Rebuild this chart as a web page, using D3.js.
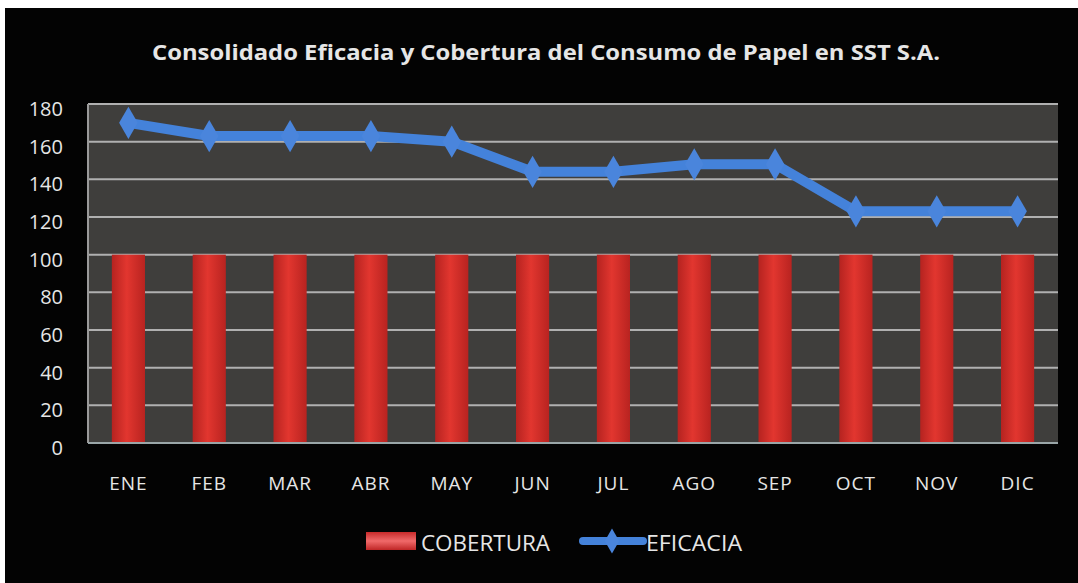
<!DOCTYPE html>
<html lang="es">
<head>
    <meta charset="UTF-8">
    <title>Consolidado Eficacia y Cobertura</title>
    <script src="https://d3js.org/d3.v7.min.js"></script>
    <style>
        body { margin: 0; padding: 0; background: #fff; }
        svg { display: block; }
        text { font-family: "Open Sans", "DejaVu Sans", sans-serif; fill: #e6e6e6; }
    </style>
</head>
<body>
<div id="viz"></div>
<script>
    // chart data
    const months = ["ENE", "FEB", "MAR", "ABR", "MAY", "JUN", "JUL", "AGO", "SEP", "OCT", "NOV", "DIC"];
    const cobertura = [100, 100, 100, 100, 100, 100, 100, 100, 100, 100, 100, 100];
    const eficacia = [170, 163, 163, 163, 160, 144, 144, 148, 148, 123, 123, 123];
    const yTicks = [0, 20, 40, 60, 80, 100, 120, 140, 160, 180];
    const title = "Consolidado Eficacia y Cobertura del Consumo de Papel en SST S.A.";

    const width = 1078, height = 583;
    const plot = { left: 88, right: 1058, top: 104, bottom: 443 };

    const svg = d3.select("#viz").append("svg")
        .attr("width", width)
        .attr("height", height);

    const defs = svg.append("defs");
    const barGrad = defs.append("linearGradient").attr("id", "barGrad")
        .attr("x1", "0%").attr("x2", "100%").attr("y1", "0%").attr("y2", "0%");
    barGrad.append("stop").attr("offset", "0%").attr("stop-color", "#b52320");
    barGrad.append("stop").attr("offset", "45%").attr("stop-color", "#e2362f");
    barGrad.append("stop").attr("offset", "100%").attr("stop-color", "#b82320");

    const legGrad = defs.append("linearGradient").attr("id", "legGrad")
        .attr("x1", "0%").attr("x2", "0%").attr("y1", "0%").attr("y2", "100%");
    legGrad.append("stop").attr("offset", "0%").attr("stop-color", "#c92a2a");
    legGrad.append("stop").attr("offset", "50%").attr("stop-color", "#f06a6a");
    legGrad.append("stop").attr("offset", "100%").attr("stop-color", "#c02626");

    // black chart background with white margin on top/left
    svg.append("rect").attr("x", 5).attr("y", 8)
        .attr("width", width - 5).attr("height", height - 8)
        .attr("fill", "#030303");

    svg.append("rect")
        .attr("x", plot.left).attr("y", plot.top)
        .attr("width", plot.right - plot.left).attr("height", plot.bottom - plot.top)
        .attr("fill", "#3f3e3c");

    const x = d3.scaleBand()
        .domain(months)
        .range([plot.left, plot.right])
        .paddingInner(0.59)
        .paddingOuter(0.295);

    const y = d3.scaleLinear()
        .domain([0, 180])
        .range([plot.bottom, plot.top]);

    // gridlines
    svg.append("g")
        .selectAll("line")
        .data(yTicks.filter(d => d > 0))
        .enter()
        .append("line")
        .attr("x1", plot.left).attr("x2", plot.right)
        .attr("y1", d => y(d)).attr("y2", d => y(d))
        .attr("stroke", "#b0b0b0")
        .attr("stroke-width", 2);

    // bars
    svg.append("g")
        .selectAll("rect")
        .data(cobertura)
        .enter()
        .append("rect")
        .attr("x", (d, i) => x(months[i]))
        .attr("y", d => y(d))
        .attr("width", x.bandwidth())
        .attr("height", d => y(0) - y(d))
        .attr("fill", "url(#barGrad)");

    // axis lines
    svg.append("line")
        .attr("x1", plot.left).attr("x2", plot.left)
        .attr("y1", plot.top).attr("y2", plot.bottom)
        .attr("stroke", "#9a9a9a").attr("stroke-width", 2);
    svg.append("line")
        .attr("x1", plot.left).attr("x2", plot.right)
        .attr("y1", plot.bottom).attr("y2", plot.bottom)
        .attr("stroke", "#9aa6a8").attr("stroke-width", 2);

    // eficacia line
    const line = d3.line()
        .x((d, i) => x(months[i]) + x.bandwidth() / 2)
        .y(d => y(d));

    svg.append("path")
        .datum(eficacia)
        .attr("d", line)
        .attr("fill", "none")
        .attr("stroke", "#4482da")
        .attr("stroke-width", 10)
        .attr("stroke-linejoin", "round");

    const diamond = d3.symbol().type(d3.symbolDiamond).size(300);
    svg.append("g")
        .selectAll("path")
        .data(eficacia)
        .enter()
        .append("path")
        .attr("d", diamond)
        .attr("transform", (d, i) => `translate(${x(months[i]) + x.bandwidth() / 2},${y(d)})`)
        .attr("fill", "#4a85dc");

    // y labels
    svg.append("g")
        .selectAll("text")
        .data(yTicks)
        .enter()
        .append("text")
        .attr("x", 63)
        .attr("y", d => y(d) + 12)
        .attr("text-anchor", "end")
        .style("font-size", "20px")
        .text(d => d);

    // x labels
    svg.append("g")
        .selectAll("text")
        .data(months)
        .enter()
        .append("text")
        .attr("x", d => x(d) + x.bandwidth() / 2)
        .attr("y", 490)
        .attr("text-anchor", "middle")
        .style("font-size", "19px")
        .style("letter-spacing", "1px")
        .text(d => d);

    // title
    svg.append("text")
        .attr("x", 546)
        .attr("y", 60)
        .attr("text-anchor", "middle")
        .style("font-size", "21px")
        .style("font-weight", "bold")
        .attr("textLength", 788)
        .attr("lengthAdjust", "spacingAndGlyphs")
        .text(title);

    // legend
    const leg = svg.append("g");
    leg.append("rect")
        .attr("x", 366).attr("y", 532)
        .attr("width", 50).attr("height", 18)
        .attr("fill", "url(#legGrad)");
    leg.append("text")
        .attr("x", 421).attr("y", 551)
        .style("font-size", "21px")
        .attr("textLength", 129)
        .attr("lengthAdjust", "spacingAndGlyphs")
        .text("COBERTURA");
    leg.append("line")
        .attr("x1", 583).attr("x2", 643)
        .attr("y1", 541).attr("y2", 541)
        .attr("stroke", "#4482da").attr("stroke-width", 8)
        .attr("stroke-linecap", "round");
    leg.append("path")
        .attr("d", d3.symbol().type(d3.symbolDiamond).size(180))
        .attr("transform", "translate(612,541)")
        .attr("fill", "#4a85dc");
    leg.append("text")
        .attr("x", 646).attr("y", 551)
        .style("font-size", "21px")
        .attr("textLength", 96)
        .attr("lengthAdjust", "spacingAndGlyphs")
        .text("EFICACIA");
</script>
</body>
</html>
